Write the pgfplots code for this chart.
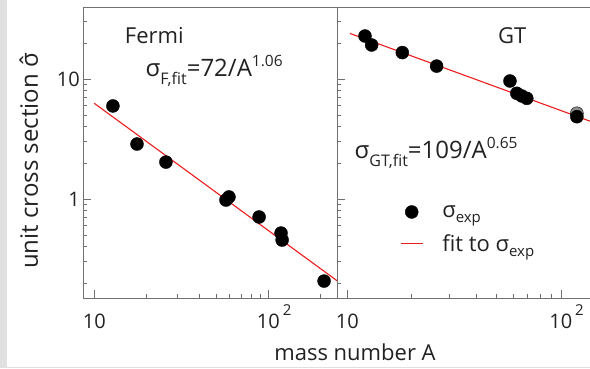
\documentclass[border=0pt]{standalone}
\usepackage{fontspec}
\setmainfont{Open Sans}
\usepackage{pgfplots}
\pgfplotsset{compat=1.18}
\definecolor{txt}{HTML}{222222}
\definecolor{axc}{HTML}{707070}
\definecolor{fitred}{HTML}{EE1C1C}
\newcommand{\sub}[1]{\raisebox{-0.45ex}{\fontsize{15}{15}\selectfont #1}}
\newcommand{\fsub}[1]{\raisebox{-8pt}{\fontsize{16}{16}\selectfont #1}}
\newcommand{\fspr}[1]{\raisebox{10pt}{\fontsize{15.5}{16}\selectfont #1}}
\newcommand{\tsup}{\rlap{\hspace{3pt}\smash{\raisebox{13pt}{\fontsize{15}{15}\selectfont 2}}}}
\newcommand{\bigtxt}{\fontsize{22}{26}\selectfont}
\newcommand{\frmtxt}{\fontsize{24}{28}\selectfont}
\pgfplotsset{
  myPanel/.style={
    scale only axis, height=291pt,
    ymin=0.1496, ymax=39.8,
    axis line style={axc, line width=0.8pt},
    tick align=inside, major tick length=8pt, minor tick length=4pt,
    every tick/.style={axc, line width=0.6pt},
    xtick={10,100}, xticklabels={10,{10\tsup}},
    ytick={1,10},
    minor ytick={0.2,0.3,0.4,0.5,0.6,0.7,0.8,0.9,2,3,4,5,6,7,8,9,20,30},
    tick label style={font=\fontsize{20}{24}\selectfont, text=txt},
    xticklabel style={yshift=-12pt},
    xtick pos=bottom, ytick pos=left,
  },
  myDat/.style={only marks, mark=*, mark size=6.5pt, black, mark options={fill=black, draw=black}},
  myFit/.style={fitred, line width=1.1pt, no marks},
  myDotLeg/.style={legend image code/.code={\draw[##1] plot coordinates {(11pt,0pt)};}},
  myLineLeg/.style={legend image code/.code={\draw[##1] (0pt,0pt) -- (22pt,0pt);}},
}
\begin{document}
\begin{tikzpicture}[x=1pt,y=1pt]
\fill[black!12] (0,0) rectangle (7,368);
\draw[black!12] (0,0.5) -- (590,0.5);
\begin{loglogaxis}[myPanel, name=L, at={(83.3pt,70pt)}, anchor=south west, width=254pt,
  xmin=8.65, xmax=249,
  minor xtick={20,30,40,50,60,70,80,90,200},
  yticklabels={1,10},
  ylabel={unit cross section \accent"02C6 σ},
  ylabel style={at={(rel axis cs:-0.215,0.471)}, anchor=center, font=\fontsize{24}{28}\selectfont, text=txt},
]
\addplot[myFit] coordinates {(10,6.27) (249,0.2077)};
\addplot[myDat] coordinates {(12.8,5.96) (17.6,2.87) (25.8,2.03) (57.1,0.98) (59.4,1.04) (88.5,0.708) (118.3,0.52) (120,0.455) (209,0.207)};
\node[anchor=base west, font=\bigtxt, text=txt] at (rel axis cs:0.150,0.876) {Fermi};
\node[anchor=base west, font=\frmtxt, text=txt, inner sep=0pt] at (rel axis cs:0.245,0.761) {σ\fsub{F,fit}=72/A\fspr{1.06}};
\end{loglogaxis}
\begin{loglogaxis}[myPanel, name=R, at={(337.3pt,70pt)}, anchor=south west, width=252.7pt,
  xmin=8.98, xmax=137,
  minor xtick={20,30,40,50,60,70,80,90},
  yticklabels={},
  axis x line*=bottom, axis y line*=left,
  legend style={draw=none, fill=none, at={(rel axis cs:0.248,0.326)}, anchor=north west,
    font=\bigtxt, text=txt, row sep=12pt, inner sep=0pt},
  legend cell align=left,
]
\addplot[myDat, forget plot, mark options={fill=black!45, draw=black}] coordinates {(118.9,5.18)};
\addplot[myDat, myDotLeg] coordinates {(12.1,22.8) (13.0,19.2) (18.1,16.6) (26.2,12.8) (57.8,9.62) (62.2,7.6) (65.6,7.22) (69.3,6.9) (118.9,4.85)};
\addlegendentry{\hspace{17pt}σ\sub{exp}}
\addplot[myFit, myLineLeg] coordinates {(10.3,23.95) (137,4.45)};
\addlegendentry{\hspace{17pt}fit to σ\sub{exp}}
\draw[axc, line width=0.8pt] (rel axis cs:0,1) -- (rel axis cs:1,1);
\node[anchor=base west, font=\bigtxt, text=txt] at (rel axis cs:0.622,0.876) {GT};
\node[anchor=base west, font=\frmtxt, text=txt, inner sep=0pt] at (rel axis cs:0.068,0.481) {σ\fsub{GT,fit}=109/A\fspr{0.65}};
\end{loglogaxis}
\node[font=\fontsize{22}{26}\selectfont, text=txt, anchor=base] at (355pt,8pt) {mass number A};
\pgfresetboundingbox
\path (0,0) rectangle (590,368);
\end{tikzpicture}
\end{document}
